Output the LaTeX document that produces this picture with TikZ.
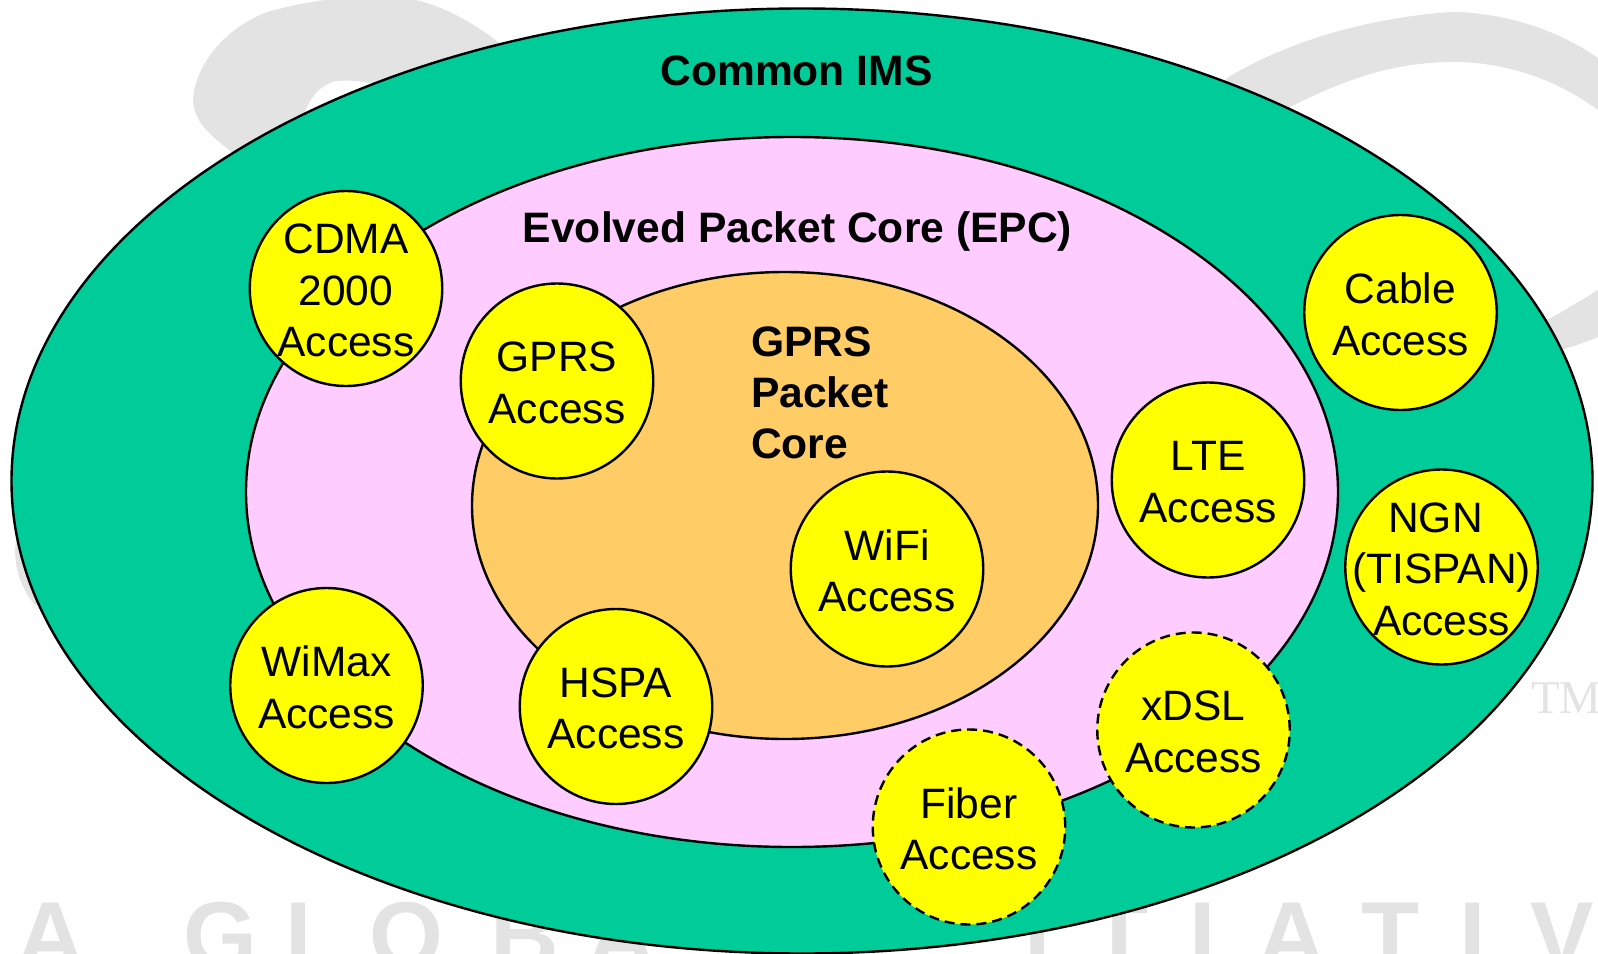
\documentclass[tikz,border=0pt]{standalone}
\usepackage{fontspec}
\setmainfont{Liberation Sans}
\newfontfamily\tmfont{Liberation Serif}
\usetikzlibrary{shapes.geometric}
\definecolor{imsgreen}{HTML}{00CC99}
\definecolor{epcpink}{HTML}{FFCCFF}
\definecolor{coreorange}{HTML}{FFCC66}
\definecolor{accyellow}{HTML}{FFFF00}
\definecolor{wmgray}{HTML}{E3E3E3}
\tikzset{
  x=1pt,y=-1pt,
  zone/.style={ellipse,draw=black,line width=2.4pt,inner sep=0pt,outer sep=0pt},
  access/.style={ellipse,draw=black,line width=2.4pt,fill=accyellow,minimum width=192.5pt,minimum height=195pt,inner sep=0pt,outer sep=0pt},
  planned/.style={access,dash pattern=on 10pt off 6pt},
  acctext/.style={font=\fontsize{42.5}{51.5}\selectfont,align=center,inner sep=0pt,yshift=-2pt},
  zonetext/.style={font=\fontsize{42.6}{51}\selectfont\bfseries,inner sep=0pt},
  wmletter/.style={font=\fontsize{95}{95}\selectfont\bfseries,text=wmgray,inner sep=0pt,anchor=base}
}
\begin{document}
\begin{tikzpicture}
\useasboundingbox (0,0) rectangle (1598,953);
\fill[white] (0,0) rectangle (1598,953);
\begin{scope}
\clip (0,0) rectangle (1598,953);
% watermark swooshes
\fill[wmgray] (520,60) .. controls (480,25) and (430,-8) .. (370,-4)
  .. controls (330,-2) and (300,3) .. (267,12)
  .. controls (225,28) and (195,65) .. (193,100)
  .. controls (194,125) and (215,140) .. (250,165)
  -- (300,125) -- (305,112)
  .. controls (310,98) and (320,84) .. (337,81)
  .. controls (350,80) and (360,81) .. (370,83)
  -- (420,110) -- cycle;
\fill[wmgray] (1200,120) -- (1227,78)
  .. controls (1290,40) and (1370,18) .. (1450,12)
  .. controls (1500,12) and (1555,28) .. (1598,58)
  -- (1620,80) -- (1620,120) -- (1598,110)
  .. controls (1560,82) and (1510,62) .. (1453,62)
  .. controls (1390,62) and (1340,82) .. (1290,107)
  -- (1260,140) -- cycle;
\fill[wmgray] (1520,300) -- (1547,320)
  .. controls (1565,310) and (1582,300) .. (1598,290)
  -- (1610,280) -- (1610,332) -- (1598,337)
  .. controls (1588,341) and (1578,345) .. (1567,348)
  -- (1540,360) -- cycle;
\fill[wmgray] (16,540) .. controls (13,560) and (18,585) .. (35,605)
  -- (60,600) -- (50,540) -- cycle;
% watermark text
\node[wmletter] (wa1) at (50.5,968) {A};
\node[wmletter] (wg)  at (220,968) {G};
\node[wmletter] (wl1) at (315,968) {L};
\node[wmletter] (wo)  at (406,968) {O};
\node[wmletter] (wb)  at (525,968) {B};
\node[wmletter] (wa2) at (622,968) {A};
\node[wmletter] (wi1) at (1038,968) {I};
\node[wmletter] (wt1) at (1119.5,968) {T};
\node[wmletter] (wi2) at (1203,968) {I};
\node[wmletter] (wa3) at (1292,968) {A};
\node[wmletter] (wt2) at (1390,968) {T};
\node[wmletter] (wi3) at (1473,968) {I};
\node[wmletter] (wv)  at (1562,968) {V};
\node[font=\fontsize{47}{47}\selectfont\tmfont,text=wmgray,inner sep=0pt,anchor=base west] (tm) at (1531,713) {TM};
\end{scope}
% zones
\node[zone,fill=imsgreen,minimum width=1581pt,minimum height=945pt] (ims) at (802,481) {};
\node[zone,fill=epcpink,minimum width=1092pt,minimum height=710pt] (epc) at (792,492) {};
\node[zone,fill=coreorange,minimum width=626pt,minimum height=467pt] (core) at (785,505.5) {};
% zone titles
\node[zonetext] (imst) at (796.5,71) {Common IMS};
\node[zonetext] (epct) at (797.5,231) {Evolved Packet Core (EPC)};
\node[zonetext,align=left,anchor=west] (coret) at (751,392.5) {GPRS\\Packet\\Core};
% access networks
\node[access] (cdma) at (346,288.5) {};
\node[access] (gprs) at (557,381) {};
\node[access] (cable) at (1400.5,312.5) {};
\node[access] (lte) at (1208,480) {};
\node[access] (ngn) at (1441.5,567) {};
\node[access] (wifi) at (887,569) {};
\node[access] (wimax) at (326.5,685.5) {};
\node[access] (hspa) at (616,706.5) {};
\node[planned] (xdsl) at (1193.5,730) {};
\node[planned] (fiber) at (969,827) {};
\node[acctext] (cdmat) at (cdma) {CDMA\\2000\\Access};
\node[acctext] (gprst) at (gprs) {GPRS\\Access};
\node[acctext] (cablet) at (cable) {Cable\\Access};
\node[acctext] (ltet) at (lte) {LTE\\Access};
\node[acctext] (ngnt) at (ngn) {NGN\hspace*{12pt}\\(TISPAN)\\Access};
\node[acctext] (wifit) at (wifi) {WiFi\\Access};
\node[acctext] (wimaxt) at (wimax) {WiMax\\Access};
\node[acctext] (hspat) at (hspa) {HSPA\\Access};
\node[acctext] (xdslt) at (xdsl) {xDSL\\Access};
\node[acctext] (fibert) at (fiber) {Fiber\\Access};
\end{tikzpicture}
\end{document}
